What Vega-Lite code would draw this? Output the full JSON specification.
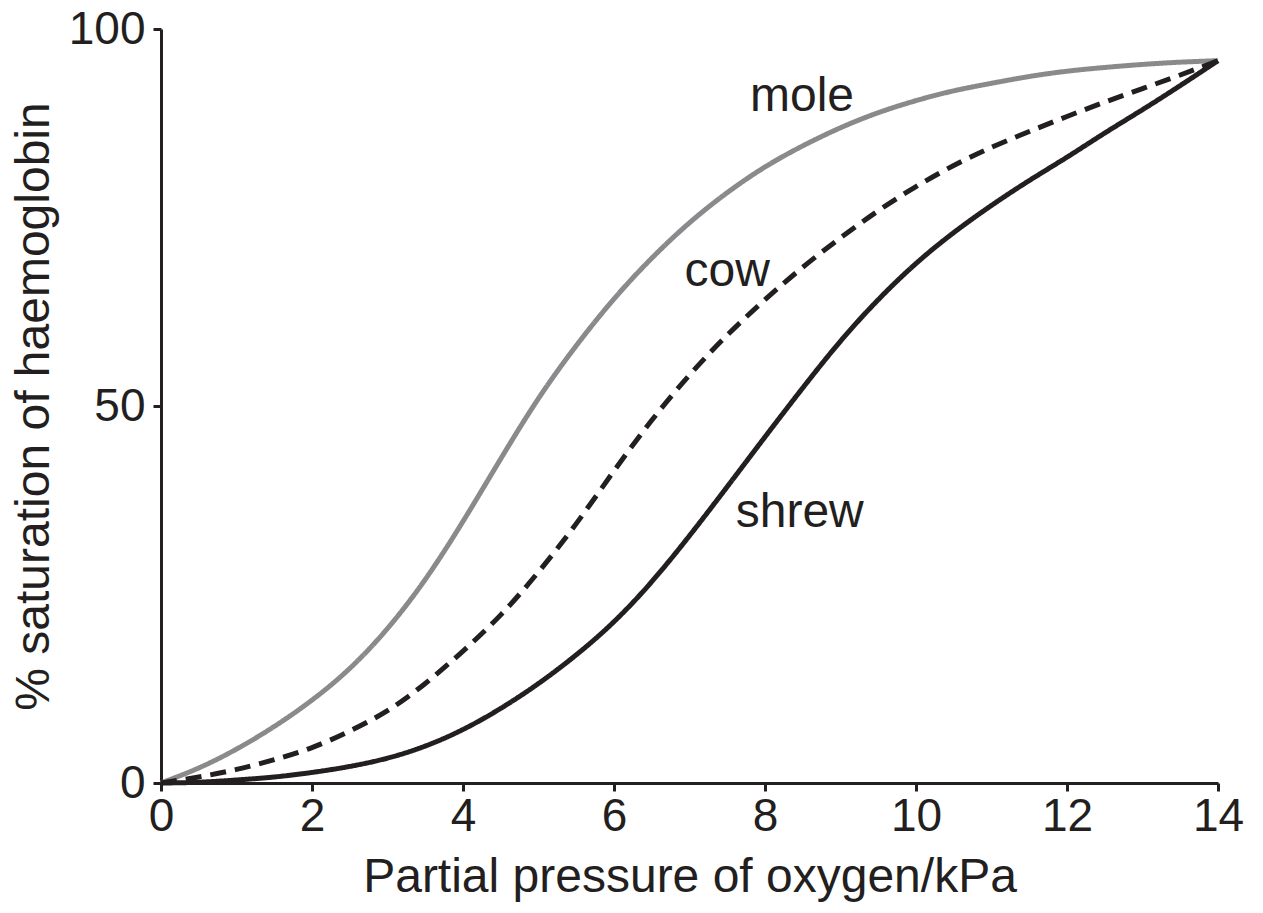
{
  "$schema": "https://vega.github.io/schema/vega-lite/v6.json",
  "autosize": "none",
  "width": 1057,
  "height": 754,
  "padding": {"left": 161, "top": 29, "right": 45, "bottom": 130},
  "background": "white",
  "config": {"view": {"stroke": null}, "font": "Liberation Sans"},
  "datasets": {
    "curves": [
      {"species": "mole", "p": 0, "s": 0}, {"species": "mole", "p": 0.5, "s": 2}, {"species": "mole", "p": 1, "s": 4.5},
      {"species": "mole", "p": 1.5, "s": 7.5}, {"species": "mole", "p": 2, "s": 11}, {"species": "mole", "p": 2.5, "s": 15.2},
      {"species": "mole", "p": 3, "s": 20.5}, {"species": "mole", "p": 3.5, "s": 27}, {"species": "mole", "p": 4, "s": 34.7},
      {"species": "mole", "p": 4.5, "s": 43}, {"species": "mole", "p": 5, "s": 51}, {"species": "mole", "p": 5.5, "s": 58},
      {"species": "mole", "p": 6, "s": 64.2}, {"species": "mole", "p": 6.5, "s": 69.6}, {"species": "mole", "p": 7, "s": 74.3},
      {"species": "mole", "p": 7.5, "s": 78.3}, {"species": "mole", "p": 8, "s": 81.7}, {"species": "mole", "p": 8.5, "s": 84.5},
      {"species": "mole", "p": 9, "s": 86.9}, {"species": "mole", "p": 9.5, "s": 88.9}, {"species": "mole", "p": 10, "s": 90.5},
      {"species": "mole", "p": 10.5, "s": 91.8}, {"species": "mole", "p": 11, "s": 92.8}, {"species": "mole", "p": 11.5, "s": 93.7},
      {"species": "mole", "p": 12, "s": 94.4}, {"species": "mole", "p": 12.5, "s": 94.9}, {"species": "mole", "p": 13, "s": 95.3},
      {"species": "mole", "p": 13.5, "s": 95.6}, {"species": "mole", "p": 14, "s": 95.8},
      {"species": "cow", "p": 0, "s": 0}, {"species": "cow", "p": 0.5, "s": 0.8}, {"species": "cow", "p": 1, "s": 1.8},
      {"species": "cow", "p": 1.5, "s": 3.1}, {"species": "cow", "p": 2, "s": 4.7}, {"species": "cow", "p": 2.5, "s": 6.9},
      {"species": "cow", "p": 3, "s": 9.6}, {"species": "cow", "p": 3.5, "s": 13.2}, {"species": "cow", "p": 4, "s": 17.5},
      {"species": "cow", "p": 4.5, "s": 22.3}, {"species": "cow", "p": 5, "s": 28}, {"species": "cow", "p": 5.5, "s": 34.4},
      {"species": "cow", "p": 6, "s": 41.4}, {"species": "cow", "p": 6.5, "s": 48.1}, {"species": "cow", "p": 7, "s": 54.1},
      {"species": "cow", "p": 7.5, "s": 59.4}, {"species": "cow", "p": 8, "s": 64.1}, {"species": "cow", "p": 8.5, "s": 68.4},
      {"species": "cow", "p": 9, "s": 72.3}, {"species": "cow", "p": 9.5, "s": 75.9}, {"species": "cow", "p": 10, "s": 79.1},
      {"species": "cow", "p": 10.5, "s": 81.9}, {"species": "cow", "p": 11, "s": 84.3}, {"species": "cow", "p": 11.5, "s": 86.4},
      {"species": "cow", "p": 12, "s": 88.4}, {"species": "cow", "p": 12.5, "s": 90.3}, {"species": "cow", "p": 13, "s": 92.1},
      {"species": "cow", "p": 13.5, "s": 93.9}, {"species": "cow", "p": 14, "s": 95.8},
      {"species": "shrew", "p": 0, "s": 0}, {"species": "shrew", "p": 0.5, "s": 0.1}, {"species": "shrew", "p": 1, "s": 0.4},
      {"species": "shrew", "p": 1.5, "s": 0.8}, {"species": "shrew", "p": 2, "s": 1.4}, {"species": "shrew", "p": 2.5, "s": 2.2},
      {"species": "shrew", "p": 3, "s": 3.3}, {"species": "shrew", "p": 3.5, "s": 4.9}, {"species": "shrew", "p": 4, "s": 7.1},
      {"species": "shrew", "p": 4.5, "s": 9.9}, {"species": "shrew", "p": 5, "s": 13.2}, {"species": "shrew", "p": 5.5, "s": 17},
      {"species": "shrew", "p": 6, "s": 21.4}, {"species": "shrew", "p": 6.5, "s": 26.7}, {"species": "shrew", "p": 7, "s": 32.8},
      {"species": "shrew", "p": 7.5, "s": 39.3}, {"species": "shrew", "p": 8, "s": 45.9}, {"species": "shrew", "p": 8.5, "s": 52.4},
      {"species": "shrew", "p": 9, "s": 58.6}, {"species": "shrew", "p": 9.5, "s": 64.1}, {"species": "shrew", "p": 10, "s": 68.9},
      {"species": "shrew", "p": 10.5, "s": 73}, {"species": "shrew", "p": 11, "s": 76.6}, {"species": "shrew", "p": 11.5, "s": 79.9},
      {"species": "shrew", "p": 12, "s": 83}, {"species": "shrew", "p": 12.5, "s": 86.2}, {"species": "shrew", "p": 13, "s": 89.3},
      {"species": "shrew", "p": 13.5, "s": 92.5}, {"species": "shrew", "p": 14, "s": 95.8}
    ],
    "labels": [
      {"label": "mole", "p": 8.49, "s": 91},
      {"label": "cow", "p": 7.5, "s": 67.8},
      {"label": "shrew", "p": 8.46, "s": 35.8}
    ]
  },
  "layer": [
    {
      "data": {"name": "curves"},
      "mark": {"type": "line", "interpolate": "natural", "strokeWidth": 5, "strokeCap": "butt"},
      "encoding": {
        "x": {
          "field": "p", "type": "quantitative",
          "scale": {"domain": [0, 14], "nice": false},
          "axis": {
            "title": "Partial pressure of oxygen/kPa",
            "values": [0, 2, 4, 6, 8, 10, 12, 14],
            "format": "d",
            "grid": false,
            "domainColor": "#231f20", "domainWidth": 3,
            "tickColor": "#231f20", "tickWidth": 3, "tickSize": 8,
            "labelFont": "Liberation Sans", "labelFontSize": 46, "labelColor": "#231f20", "labelPadding": 3,
            "labelFlush": false,
            "titleFont": "Liberation Sans", "titleFontSize": 48, "titleFontWeight": "normal", "titleColor": "#231f20", "titlePadding": 14
          }
        },
        "y": {
          "field": "s", "type": "quantitative",
          "scale": {"domain": [0, 100], "nice": false},
          "axis": {
            "title": "% saturation of haemoglobin",
            "values": [0, 50, 100],
            "grid": false,
            "domainColor": "#231f20", "domainWidth": 3,
            "tickColor": "#231f20", "tickWidth": 3, "tickSize": 8,
            "labelFont": "Liberation Sans", "labelFontSize": 46, "labelColor": "#231f20", "labelPadding": 8,
            "labelFlush": false,
            "titleFont": "Liberation Sans", "titleFontSize": 48, "titleFontWeight": "normal", "titleColor": "#231f20", "titlePadding": 10
          }
        },
        "color": {
          "field": "species", "type": "nominal",
          "scale": {"domain": ["mole", "cow", "shrew"], "range": ["#8a8a8c", "#231f20", "#231f20"]},
          "legend": null
        },
        "strokeDash": {
          "field": "species", "type": "nominal",
          "scale": {"domain": ["mole", "cow", "shrew"], "range": [[1, 0], [16, 9], [1, 0]]},
          "legend": null
        }
      }
    },
    {
      "data": {"name": "labels"},
      "mark": {"type": "text", "font": "Liberation Sans", "fontSize": 48, "color": "#231f20", "align": "center", "baseline": "middle"},
      "encoding": {
        "x": {"field": "p", "type": "quantitative"},
        "y": {"field": "s", "type": "quantitative"},
        "text": {"field": "label"}
      }
    }
  ]
}
